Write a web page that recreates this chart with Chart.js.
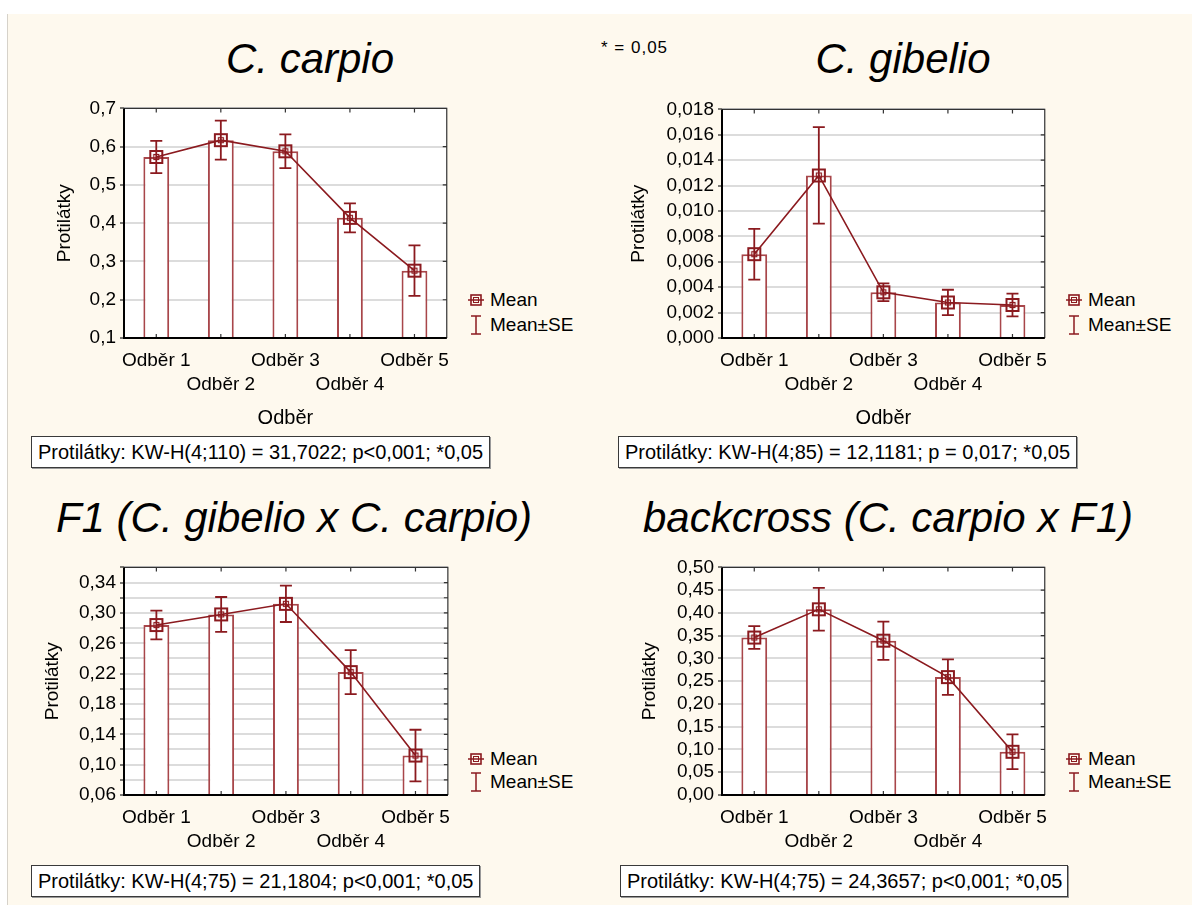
<!DOCTYPE html>
<html>
<head>
<meta charset="utf-8">
<script src="https://cdn.jsdelivr.net/npm/chart.js@4.4.1/dist/chart.umd.min.js"></script>
<style>
  body { margin:0; width:1192px; height:905px; background:#fff; position:relative; overflow:hidden;
         font-family:"Liberation Sans", Arial, sans-serif; color:#000; }
  #bg { position:absolute; left:7px; top:14px; right:0; bottom:0; background:#fef9ee; border-left:1px solid #d6d2ca; }
  .title { position:absolute; font-style:italic; font-size:42px; line-height:42px; white-space:nowrap; transform:translateX(-50%); }
  .note { position:absolute; font-size:17px; line-height:17px; letter-spacing:1px; white-space:nowrap; }
  .cv { position:absolute; }
  .leg { position:absolute; font-size:19px; line-height:22px; white-space:nowrap; }
  .leg div { position:absolute; left:0; }
  .leg svg { position:absolute; }
  .stat { position:absolute; box-sizing:border-box; height:32px; border:1px solid #3a3a3a; background:#fff;
          box-shadow:1px 1px 0 #9a9a9a; font-size:20px; line-height:30px; padding-left:6px; white-space:nowrap; }
</style>
</head>
<body>
<div id="bg"></div>

<div class="title" style="left:310px; top:38px;">C. carpio</div>
<div class="title" style="left:903px; top:38px;">C. gibelio</div>
<div class="title" style="left:294px; top:497px;">F1 (C. gibelio x C. carpio)</div>
<div class="title" style="left:888px; top:497px;">backcross (C. carpio x F1)</div>
<div class="note" style="left:601px; top:39px;">* = 0,05</div>

<canvas id="c1" class="cv"></canvas>
<canvas id="c2" class="cv"></canvas>
<canvas id="c3" class="cv"></canvas>
<canvas id="c4" class="cv"></canvas>

<div class="stat" style="left:31px; top:436px; width:459px;">Protilátky: KW-H(4;110) = 31,7022; p&lt;0,001; *0,05</div>
<div class="stat" style="left:618px; top:436px; width:459px;">Protilátky: KW-H(4;85) = 12,1181; p = 0,017; *0,05</div>
<div class="stat" style="left:31px; top:865px; width:449px;">Protilátky: KW-H(4;75) = 21,1804; p&lt;0,001; *0,05</div>
<div class="stat" style="left:620px; top:865px; width:448px;">Protilátky: KW-H(4;75) = 24,3657; p&lt;0,001; *0,05</div>

<script>
// --- DATA ---
const categories = ['Odběr 1', 'Odběr 2', 'Odběr 3', 'Odběr 4', 'Odběr 5'];

const carpioMean = [0.573, 0.617, 0.588, 0.414, 0.276];
const carpioSE   = [0.042, 0.051, 0.044, 0.038, 0.066];
const carpioTicks = [0.1, 0.2, 0.3, 0.4, 0.5, 0.6, 0.7];

const gibelioMean = [0.0066, 0.0128, 0.0036, 0.0028, 0.0026];
const gibelioSE   = [0.0020, 0.0038, 0.0007, 0.0010, 0.0009];
const gibelioTicks = [0, 0.002, 0.004, 0.006, 0.008, 0.010, 0.012, 0.014, 0.016, 0.018];

const f1Mean = [0.284, 0.298, 0.312, 0.222, 0.112];
const f1SE   = [0.019, 0.023, 0.024, 0.029, 0.034];
const f1Ticks = [0.06, 0.08, 0.10, 0.12, 0.14, 0.16, 0.18, 0.20, 0.22, 0.24, 0.26, 0.28, 0.30, 0.32, 0.34, 0.36];
const f1Labels = [0.06, 0.10, 0.14, 0.18, 0.22, 0.26, 0.30, 0.34];

const backMean = [0.346, 0.408, 0.339, 0.259, 0.095];
const backSE   = [0.025, 0.047, 0.042, 0.039, 0.038];
const backTicks = [0, 0.05, 0.10, 0.15, 0.20, 0.25, 0.30, 0.35, 0.40, 0.45, 0.50];

const FONT = '"Liberation Sans", Arial, sans-serif';
const DARK = '#8b1a1f';
const BAR = '#a8464a';

// Mean marker: hollow square with small inner square
const marker = document.createElement('canvas');
marker.width = 16; marker.height = 16;
(function () {
    const m = marker.getContext('2d');
    m.strokeStyle = DARK;
    m.lineWidth = 2;
    m.strokeRect(2, 2, 12, 12);
    m.lineWidth = 1.2;
    m.strokeRect(5.5, 5.5, 5, 5);
})();

// frame, error bars, inner ticks
const framePlugin = {
    id: 'frame',
    beforeDraw(chart) {
        const a = chart.chartArea, ctx = chart.ctx;
        ctx.save();
        ctx.fillStyle = '#fff';
        ctx.fillRect(a.left, a.top, a.right - a.left, a.bottom - a.top);
        ctx.restore();
    },
    afterDatasetDraw(chart, args) {
        if (args.index !== 1) return;
        const ctx = chart.ctx, x = chart.scales.x, y = chart.scales.y;
        const ds = chart.data.datasets[1], mean = ds.data, se = ds.se;
        if (!se) return;
        ctx.save();
        ctx.strokeStyle = DARK;
        ctx.lineWidth = 1.8;
        mean.forEach((m, i) => {
            const px = x.getPixelForValue(i);
            const top = y.getPixelForValue(m + se[i]);
            const bot = y.getPixelForValue(m - se[i]);
            ctx.beginPath();
            ctx.moveTo(px, top); ctx.lineTo(px, bot);
            ctx.moveTo(px - 6, top); ctx.lineTo(px + 6, top);
            ctx.moveTo(px - 6, bot); ctx.lineTo(px + 6, bot);
            ctx.stroke();
        });
        ctx.restore();
    },
    afterDraw(chart) {
        const a = chart.chartArea, ctx = chart.ctx, x = chart.scales.x, y = chart.scales.y;
        ctx.save();
        ctx.strokeStyle = '#333';
        ctx.lineWidth = 1.2;
        ctx.beginPath();
        // inner ticks on right border
        y.ticks.forEach(t => {
            const py = y.getPixelForValue(t.value);
            ctx.moveTo(a.right - 4, py); ctx.lineTo(a.right, py);
        });
        // inner ticks at categories, top and bottom
        categories.forEach((c, i) => {
            const px = x.getPixelForValue(i);
            ctx.moveTo(px, a.top); ctx.lineTo(px, a.top + 4);
            ctx.moveTo(px, a.bottom); ctx.lineTo(px, a.bottom - 4);
        });
        ctx.moveTo(a.left, a.top); ctx.lineTo(a.right, a.top); ctx.lineTo(a.right, a.bottom);
        ctx.stroke();
        ctx.strokeStyle = '#000';
        ctx.lineWidth = 2;
        ctx.beginPath();
        ctx.moveTo(a.left, a.top); ctx.lineTo(a.left, a.bottom); ctx.lineTo(a.right, a.bottom);
        ctx.stroke();
        ctx.restore();
    }
};

function fmt(v, dec) { return v.toFixed(dec).replace('.', ','); }

function makeChart(id, p) {
    const el = document.getElementById(id);
    const left = p.yTitleX - 12, top = p.plot[1] - 12;
    const width = p.plot[2] + 12 - left, height = p.bottom - top;
    el.width = width; el.height = height;
    Object.assign(el.style, { left: left + 'px', top: top + 'px', width: width + 'px', height: height + 'px' });

    new Chart(el, {
        type: 'bar',
        data: {
            labels: categories,
            datasets: [
                { type: 'line', data: p.mean, borderColor: DARK, borderWidth: 1.6, pointStyle: marker,
                  pointRadius: 8, pointHoverRadius: 8, order: 0 },
                { type: 'bar', data: p.mean, se: p.se, backgroundColor: '#fff', borderColor: BAR, borderWidth: 2,
                  barPercentage: 0.4, categoryPercentage: 1, order: 1 }
            ]
        },
        options: {
            responsive: false,
            animation: false,
            devicePixelRatio: 1,
            layout: { padding: { top: 12, right: 12, left: 0, bottom: 0 } },
            plugins: { legend: { display: false }, tooltip: { enabled: false } },
            scales: {
                x: {
                    offset: true,
                    grid: { display: false, drawTicks: false },
                    border: { display: false },
                    ticks: {
                        autoSkip: false, maxRotation: 0, minRotation: 0, padding: 10, color: '#000',
                        font: { family: FONT, size: 19, lineHeight: 1.3 },
                        callback: (v) => v % 2 ? ['', categories[v]] : [categories[v], '']
                    },
                    title: { display: p.xTitle, text: 'Odběr', color: '#000',
                             font: { family: FONT, size: 20 }, padding: { top: 0, bottom: 0 } },
                    afterFit: s => { s.height = p.bottom - p.plot[3]; }
                },
                y: {
                    min: p.ticks[0], max: p.ticks[p.ticks.length - 1],
                    grid: { color: '#dcdcdc', lineWidth: 2, drawTicks: true, tickLength: 4, tickColor: '#222', tickWidth: 1.2 },
                    border: { display: false },
                    afterBuildTicks: s => { s.ticks = p.ticks.map(v => ({ value: v })); },
                    ticks: {
                        autoSkip: false, padding: 4, color: '#000', font: { family: FONT, size: 19 },
                        callback: v => (!p.labels || p.labels.some(l => Math.abs(l - v) < 1e-9)) ? fmt(v, p.dec) : ''
                    },
                    title: { display: true, text: 'Protilátky', color: '#000',
                             font: { family: FONT, size: 19 }, padding: { top: 1, bottom: 0 } },
                    afterFit: s => { s.width = p.plot[0] - left; }
                }
            }
        },
        plugins: [framePlugin]
    });
}

makeChart('c1', { mean: carpioMean, se: carpioSE, ticks: carpioTicks, dec: 1,
                  plot: [124, 105, 448, 338], yTitleX: 64, bottom: 430, xTitle: true });
makeChart('c2', { mean: gibelioMean, se: gibelioSE, ticks: gibelioTicks, dec: 3,
                  plot: [722, 106, 1046, 338], yTitleX: 638, bottom: 430, xTitle: true });
makeChart('c3', { mean: f1Mean, se: f1SE, ticks: f1Ticks, labels: f1Labels, dec: 2,
                  plot: [124, 564, 449, 795], yTitleX: 52, bottom: 860, xTitle: false });
makeChart('c4', { mean: backMean, se: backSE, ticks: backTicks, dec: 2,
                  plot: [722, 564, 1046, 795], yTitleX: 649, bottom: 860, xTitle: false });

// --- LEGENDS ---
function addLegend(x, y1, y2) {
    const d = document.createElement('div');
    d.className = 'leg';
    d.style.left = x + 'px';
    d.style.top = '0px';
    d.innerHTML =
        `<svg width="16" height="14" style="left:0;top:${y1 - 7}px">
           <line x1="0" y1="7" x2="16" y2="7" stroke="${DARK}" stroke-width="1.5"/>
           <rect x="3" y="2" width="10" height="10" fill="none" stroke="${DARK}" stroke-width="1.6"/>
           <rect x="5.5" y="4.5" width="5" height="5" fill="none" stroke="${DARK}" stroke-width="1"/>
         </svg>
         <div style="left:22px;top:${y1 - 11}px">Mean</div>
         <svg width="16" height="22" style="left:0;top:${y2 - 11}px">
           <line x1="8" y1="2" x2="8" y2="20" stroke="${DARK}" stroke-width="1.5"/>
           <line x1="3" y1="2" x2="13" y2="2" stroke="${DARK}" stroke-width="1.5"/>
           <line x1="3" y1="20" x2="13" y2="20" stroke="${DARK}" stroke-width="1.5"/>
         </svg>
         <div style="left:22px;top:${y2 - 11}px">Mean±SE</div>`;
    document.body.appendChild(d);
}
addLegend(468, 300, 325);
addLegend(1066, 300, 325);
addLegend(468, 759, 782);
addLegend(1066, 759, 782);
</script>
</body>
</html>
